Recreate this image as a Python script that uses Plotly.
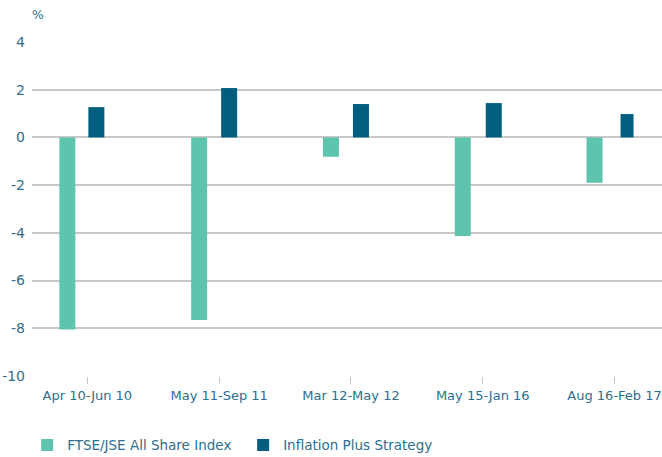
import plotly.graph_objects as go

categories = ["Apr 10-Jun 10", "May 11-Sep 11", "Mar 12-May 12", "May 15-Jan 16", "Aug 16-Feb 17"]
ftse_jse = [-8.05, -7.65, -0.81, -4.13, -1.90]
inflation_plus = [1.27, 2.07, 1.40, 1.44, 0.98]
y_ticks = [4, 2, 0, -2, -4, -6, -8, -10]

GREEN = "#5EC4AE"
DARK = "#025E7E"
TEXT = "#2D6E8E"
GRID = "#C8C8C8"
FONT = "DejaVu Sans"

cat_px = 131.8
fig = go.Figure()
fig.add_trace(go.Bar(
    x=categories, y=ftse_jse, name="FTSE/JSE All Share Index",
    marker=dict(color=GREEN, line=dict(width=0)),
    offset=[-28 / cat_px] * 5, width=[16 / cat_px] * 5,
))
fig.add_trace(go.Bar(
    x=categories, y=inflation_plus, name="Inflation Plus Strategy",
    marker=dict(color=DARK, line=dict(width=0)),
    offset=[1 / cat_px, 2 / cat_px, 2 / cat_px, 3 / cat_px, 6 / cat_px],
    width=[16 / cat_px, 16 / cat_px, 16 / cat_px, 16 / cat_px, 13 / cat_px],
))

fig.update_layout(
    width=662, height=457,
    margin=dict(l=32, r=0, t=42, b=81, autoexpand=False),
    paper_bgcolor="white", plot_bgcolor="white",
    font=dict(family=FONT, size=13, color=TEXT),
    barmode="overlay",
    showlegend=True,
    legend=dict(
        orientation="h", xref="container", yref="container",
        x=0.041, xanchor="left", y=0.026, yanchor="middle",
        font=dict(size=13.5, color=TEXT), entrywidth=171, entrywidthmode="pixels",
        traceorder="normal",
    ),
    xaxis=dict(
        type="category", range=[-0.42, 4.36], automargin=False,
        showgrid=False, zeroline=False, showline=False,
        ticks="outside", ticklen=7, tickcolor=GRID, tickwidth=1,
        tickfont=dict(size=13, color=TEXT),
    ),
    yaxis=dict(
        range=[-10, 4], tickvals=y_ticks, ticktext=[str(v) for v in y_ticks],
        automargin=False,
        showgrid=True, gridcolor=GRID, gridwidth=1.5,
        zeroline=True, zerolinecolor=GRID, zerolinewidth=1.5,
        showline=False, ticks="", ticklabelstandoff=6,
        tickfont=dict(size=14, color=TEXT),
    ),
    annotations=[dict(
        text="%", xref="paper", yref="paper", x=0, y=1, xanchor="left", yanchor="bottom",
        xshift=-2, yshift=18, showarrow=False, font=dict(size=12.5, color=TEXT),
    )],
)

fig.write_html("out.html", config={"displayModeBar": False},
               post_script="document.body.style.margin='0';")
